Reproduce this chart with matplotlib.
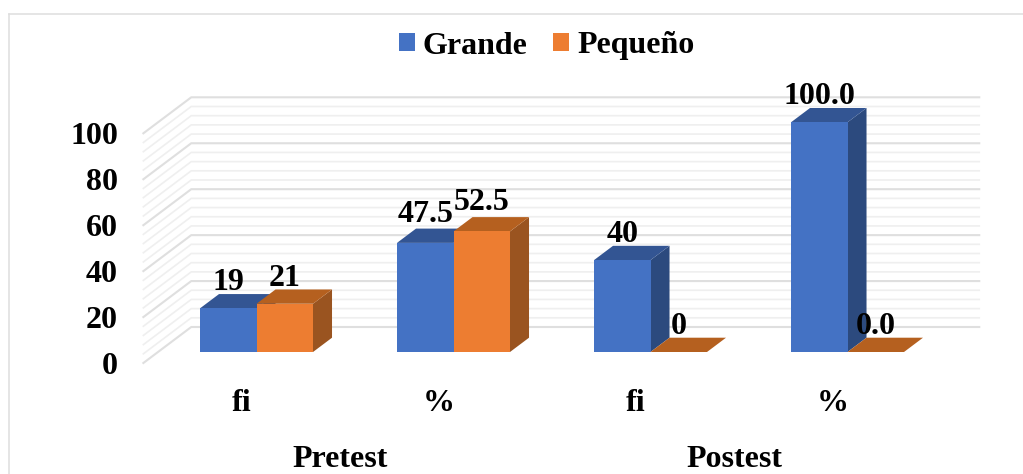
import matplotlib
matplotlib.use("Agg")
import matplotlib.pyplot as plt
from matplotlib.lines import Line2D
from matplotlib.patches import Polygon, Patch
from matplotlib.transforms import ScaledTranslation

plt.rcParams['font.family'] = ['Liberation Serif', 'DejaVu Serif']
plt.rcParams['font.weight'] = 'bold'

# ---- data ----
categories = ['fi', '%', 'fi', '%']
groups = ['Pretest', 'Postest']
series_names = ['Grande', 'Pequeño']
grande = [19, 47.5, 40, 100]
pequeno = [21, 52.5, 0, 0]
grande_labels = ['19', '47.5', '40', '100.0']
pequeno_labels = ['21', '52.5', '0', '0.0']
y_ticks = [0, 20, 40, 60, 80, 100]
y_minor = [v for v in range(0, 101, 4)]

# ---- style ----
W, H = 1023, 474
FS = 23
BLUE, BLUE_TOP, BLUE_SIDE = '#4472C4', '#335593', '#2C4A7E'
ORANGE, ORANGE_TOP, ORANGE_SIDE = '#ED7D31', '#B5601F', '#9A5420'
PX_X, PX_Y = 197.0, 2.297          # pixels per category / per value unit
BAR_W = 56.5 / PX_X
LABEL_LIFT = {1: 21}               # category index -> lift of its value labels, px


def depth(d):
    """Oblique shift, in data units, for a depth of d pixels."""
    return 1.33 * d / PX_X, d / PX_Y


fig = plt.figure(figsize=(W / 100, H / 100), dpi=100, facecolor='white')
ax = fig.add_axes([158 / W, 1 - 352 / H, 4 * PX_X / W, 100 * PX_Y / H])
ax.set_xlim(0, 4)
ax.set_ylim(0, 100)
ax.patch.set_alpha(0)
for s in ax.spines.values():
    s.set_visible(False)

# outer frame: only the left and top edges fall inside the picture
for xs, ys in [((9, 9), (14, 474)), ((9, 1023), (14, 14))]:
    fig.add_artist(Line2D([x / W for x in xs], [1 - y / H for y in ys],
                          color='#DEDEDE', lw=1.1))

# walls: side wall + back wall grid
fx, fy = depth(-11)
bx, by = depth(25)
for v in y_minor:
    major = v in y_ticks
    ax.plot([fx, bx, 4 + bx], [v + fy, v + by, v + by], clip_on=False,
            color='#DFDFDF' if major else '#EFEFEF',
            lw=1.5 if major else 1.2, zorder=1 if major else 0.5)

# bars
dx, dy = depth(14.3)
z = 2
for i in range(len(categories)):
    c = i + 0.5
    for val, x0, cols in [(grande[i], c - BAR_W, (BLUE, BLUE_TOP, BLUE_SIDE)),
                          (pequeno[i], c, (ORANGE, ORANGE_TOP, ORANGE_SIDE))]:
        x1 = x0 + BAR_W
        if val > 0:
            ax.add_patch(Polygon([(x1, 0), (x1 + dx, dy), (x1 + dx, val + dy), (x1, val)],
                                 closed=True, fc=cols[2], ec='none', zorder=z, clip_on=False))
        ax.add_patch(Polygon([(x0, val), (x1, val), (x1 + dx, val + dy), (x0 + dx, val + dy)],
                             closed=True, fc=cols[1], ec='none', zorder=z, clip_on=False))
        if val > 0:
            ax.bar(x0, val, width=BAR_W, align='edge', color=cols[0], zorder=z, clip_on=False)
        z += 1

# value labels
for i in range(len(categories)):
    c = i + 0.5
    lift = LABEL_LIFT.get(i, 18)
    for val, lab, xc in [(grande[i], grande_labels[i], c - BAR_W / 2),
                         (pequeno[i], pequeno_labels[i], c + BAR_W / 2)]:
        ax.annotate(lab, (xc, val), xytext=(0, lift), textcoords='offset pixels',
                    ha='center', va='baseline', fontsize=FS, fontweight='bold',
                    color='black', zorder=50, annotation_clip=False)

# y axis labels
ax.set_yticks(y_ticks)
ax.set_xticks([])
ax.tick_params(axis='y', length=0, pad=0, labelsize=FS)
off = ScaledTranslation(-40 / 100, -11 / 100, fig.dpi_scale_trans)
for t in ax.get_yticklabels():
    t.set_transform(t.get_transform() + off)
    t.set_fontweight('bold')

# category + group labels
for i, lab in enumerate(categories):
    ax.annotate(lab, (i + 0.5, 0), xytext=(-14.5, -59), textcoords='offset pixels',
                ha='center', va='baseline', fontsize=FS, fontweight='bold', annotation_clip=False)
for j, lab in enumerate(groups):
    ax.annotate(lab, (2 * j + 1, 0), xytext=(-15, -115), textcoords='offset pixels',
                ha='center', va='baseline', fontsize=FS, fontweight='bold', annotation_clip=False)

# legend
handles = [Patch(fc=BLUE, ec='none', label=series_names[0]),
           Patch(fc=ORANGE, ec='none', label=series_names[1])]
fig.legend(handles=handles, loc='center', bbox_to_anchor=(546.5 / W, 1 - 46 / H), ncol=2,
           frameon=False, fontsize=FS, handlelength=0.5, handleheight=0.5,
           handletextpad=0.25, columnspacing=0.8, borderpad=0, borderaxespad=0)

fig.savefig('out.png', dpi=100)
